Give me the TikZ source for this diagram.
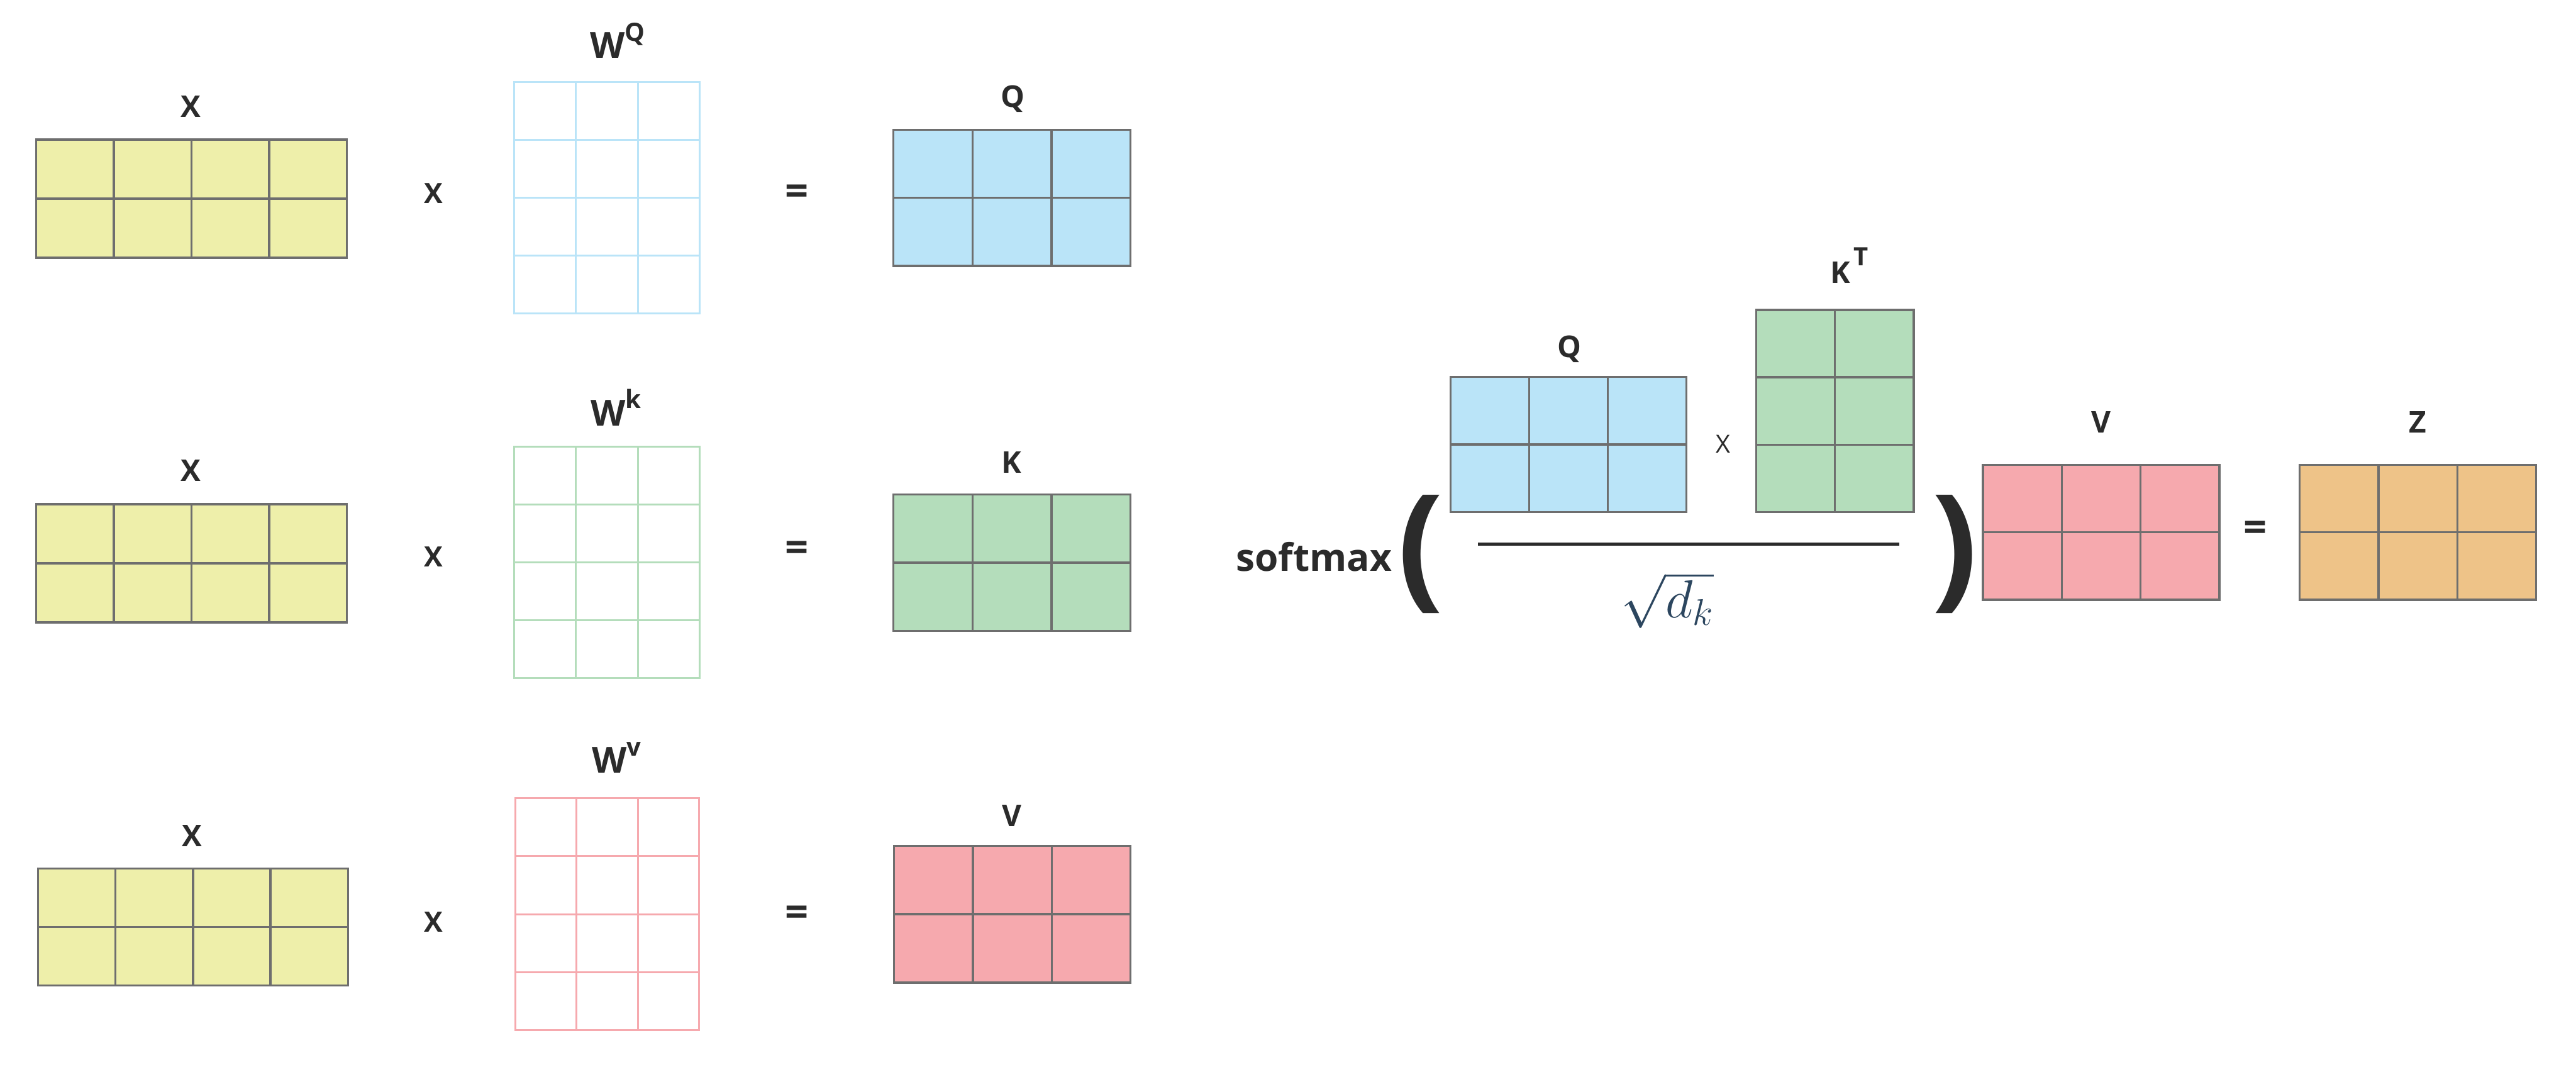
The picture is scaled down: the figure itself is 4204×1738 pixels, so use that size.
\documentclass[tikz,border=0pt]{standalone}
\usepackage{fontspec}
\setmainfont{Open Sans}
\usetikzlibrary{calc}

\definecolor{txt}{HTML}{2B2B2B}
\definecolor{grayline}{HTML}{6E6E6E}
\definecolor{yellowfill}{HTML}{EEEFAA}
\definecolor{bluefill}{HTML}{BAE4F8}
\definecolor{greenfill}{HTML}{B4DDBB}
\definecolor{pinkfill}{HTML}{F6A9AE}
\definecolor{orangefill}{HTML}{EEC388}
\definecolor{rootcol}{HTML}{2C465F}

\tikzset{
  filled/.style={draw=grayline, line width=1pt},
  xmat/.style={filled, fill=yellowfill},
  qmat/.style={filled, fill=bluefill},
  kmat/.style={filled, fill=greenfill},
  vmat/.style={filled, fill=pinkfill},
  zmat/.style={filled, fill=orangefill},
  wqmat/.style={draw=bluefill, line width=0.85pt},
  wkmat/.style={draw=greenfill, line width=0.85pt},
  wvmat/.style={draw=pinkfill, line width=0.85pt},
  lbl/.style={font=\fontsize{13.9}{14}\selectfont\bfseries, text=txt, inner sep=0pt, anchor=base},
  wlbl/.style={font=\fontsize{16.7}{17}\selectfont\bfseries, text=txt, inner sep=0pt, anchor=base},
  opsym/.style={font=\fontsize{13}{13}\selectfont\bfseries, text=txt, inner sep=0pt},
  eqsym/.style={font=\fontsize{19}{19}\selectfont\bfseries, text=txt, inner sep=0pt},
  paren/.style={font=\fontsize{63}{63}\selectfont\bfseries, text=txt, inner sep=0pt},
}

% raised small letter for W^Q, K^T ...
\newcommand{\hilab}[1]{\raisebox{0.28cm}{\fontsize{11.7}{12}\selectfont #1}}

% matrix as a grid of cells: name, style, left, top, width, height, columns, rows
\newcommand{\gridmat}[8]{%
  \node[#2, anchor=north west, inner sep=0pt, outer sep=0pt,
        minimum width=#5*0.01cm, minimum height=#6*0.01cm] (#1) at (#3,#4) {};
  \pgfmathtruncatemacro\ncol{#7-1}
  \pgfmathtruncatemacro\nrow{#8-1}
  \foreach \c in {1,...,\ncol}{
    \pgfmathsetmacro\fr{\c/#7}
    \draw[#2] ($(#1.north west)!\fr!(#1.north east)$) -- ($(#1.south west)!\fr!(#1.south east)$);
  }
  \foreach \r in {1,...,\nrow}{
    \pgfmathsetmacro\fr{\r/#8}
    \draw[#2] ($(#1.north west)!\fr!(#1.south west)$) -- ($(#1.north east)!\fr!(#1.south east)$);
  }
}

\begin{document}
\begin{tikzpicture}[x=0.01cm, y=-0.01cm]
\useasboundingbox (0,0) rectangle (4204,1738);

% three projections of X
\gridmat{Xq}{xmat}{59}{228}{507}{193}{4}{2}
\gridmat{Wq}{wqmat}{839}{134}{303}{378}{3}{4}
\gridmat{Q}{qmat}{1458}{212}{387}{222}{3}{2}

\gridmat{Xk}{xmat}{59}{823}{507}{193}{4}{2}
\gridmat{Wk}{wkmat}{839}{729}{303}{378}{3}{4}
\gridmat{K}{kmat}{1458}{807}{387}{223}{3}{2}

\gridmat{Xv}{xmat}{62}{1418}{506}{191}{4}{2}
\gridmat{Wv}{wvmat}{841}{1303}{300}{379}{3}{4}
\gridmat{V}{vmat}{1459}{1381}{386}{223}{3}{2}

\node[lbl] (labXq) at (311,191) {X};
\node[wlbl] (labWq) at (1008,95) {W\hilab{Q}};
\node[lbl] (labQ) at (1653,175) {Q};
\node[opsym] (mulq) at (708,316) {X};
\node[eqsym] (eqq) at (1300,318) {=};

\node[lbl] (labXk) at (311,786) {X};
\node[wlbl] (labWk) at (1005,695) {W\hilab{k}};
\node[lbl] (labK) at (1651,772) {K};
\node[opsym] (mulk) at (708,909) {X};
\node[eqsym] (eqk) at (1300,900) {=};

\node[lbl] (labXv) at (313,1382) {X};
\node[wlbl] (labWv) at (1006,1262) {W\hilab{v}};
\node[lbl] (labV) at (1651,1349) {V};
\node[opsym] (mulv) at (708,1505) {X};
\node[eqsym] (eqv) at (1300,1496) {=};

% attention: softmax(Q K^T / sqrt(d_k)) V = Z
\gridmat{Qs}{qmat}{2367}{615}{385}{221}{3}{2}
\gridmat{KT}{kmat}{2866}{506}{257}{330}{2}{3}
\gridmat{Vs}{vmat}{3236}{759}{386}{220}{3}{2}
\gridmat{Z}{zmat}{3753}{759}{386}{220}{3}{2}

\node[lbl] (labQs) at (2561,583) {Q};
\node[lbl] (labKT) at (3018,462) {K\hspace{0.06cm}\hilab{T}};
\node[lbl] (labVs) at (3429,707) {V};
\node[lbl] (labZ) at (3946,707) {Z};
\node[font=\fontsize{11.6}{12}\selectfont, text=txt, inner sep=0pt, anchor=base] (mulqk) at (2812,739) {X};
\node[eqsym] (eqz) at (3681,867) {=};

\node[font=\fontsize{17.6}{18}\selectfont\bfseries, text=txt, inner sep=0pt, anchor=base east] (softmax) at (2272,932) {softmax};
\node[paren] (lpar) at (2319,905) {(};
\node[paren] (rpar) at (3190,905) {)};

\coordinate (barL) at (2412,888);
\coordinate (barR) at (3100,888);
\draw[txt, line width=0.05cm] (barL) -- (barR);
\node[text=rootcol, inner sep=0pt, anchor=base, font=\fontsize{23.5}{24}\selectfont] (root) at (2721,1008) {$\sqrt{d_k}$};
\end{tikzpicture}
\end{document}
